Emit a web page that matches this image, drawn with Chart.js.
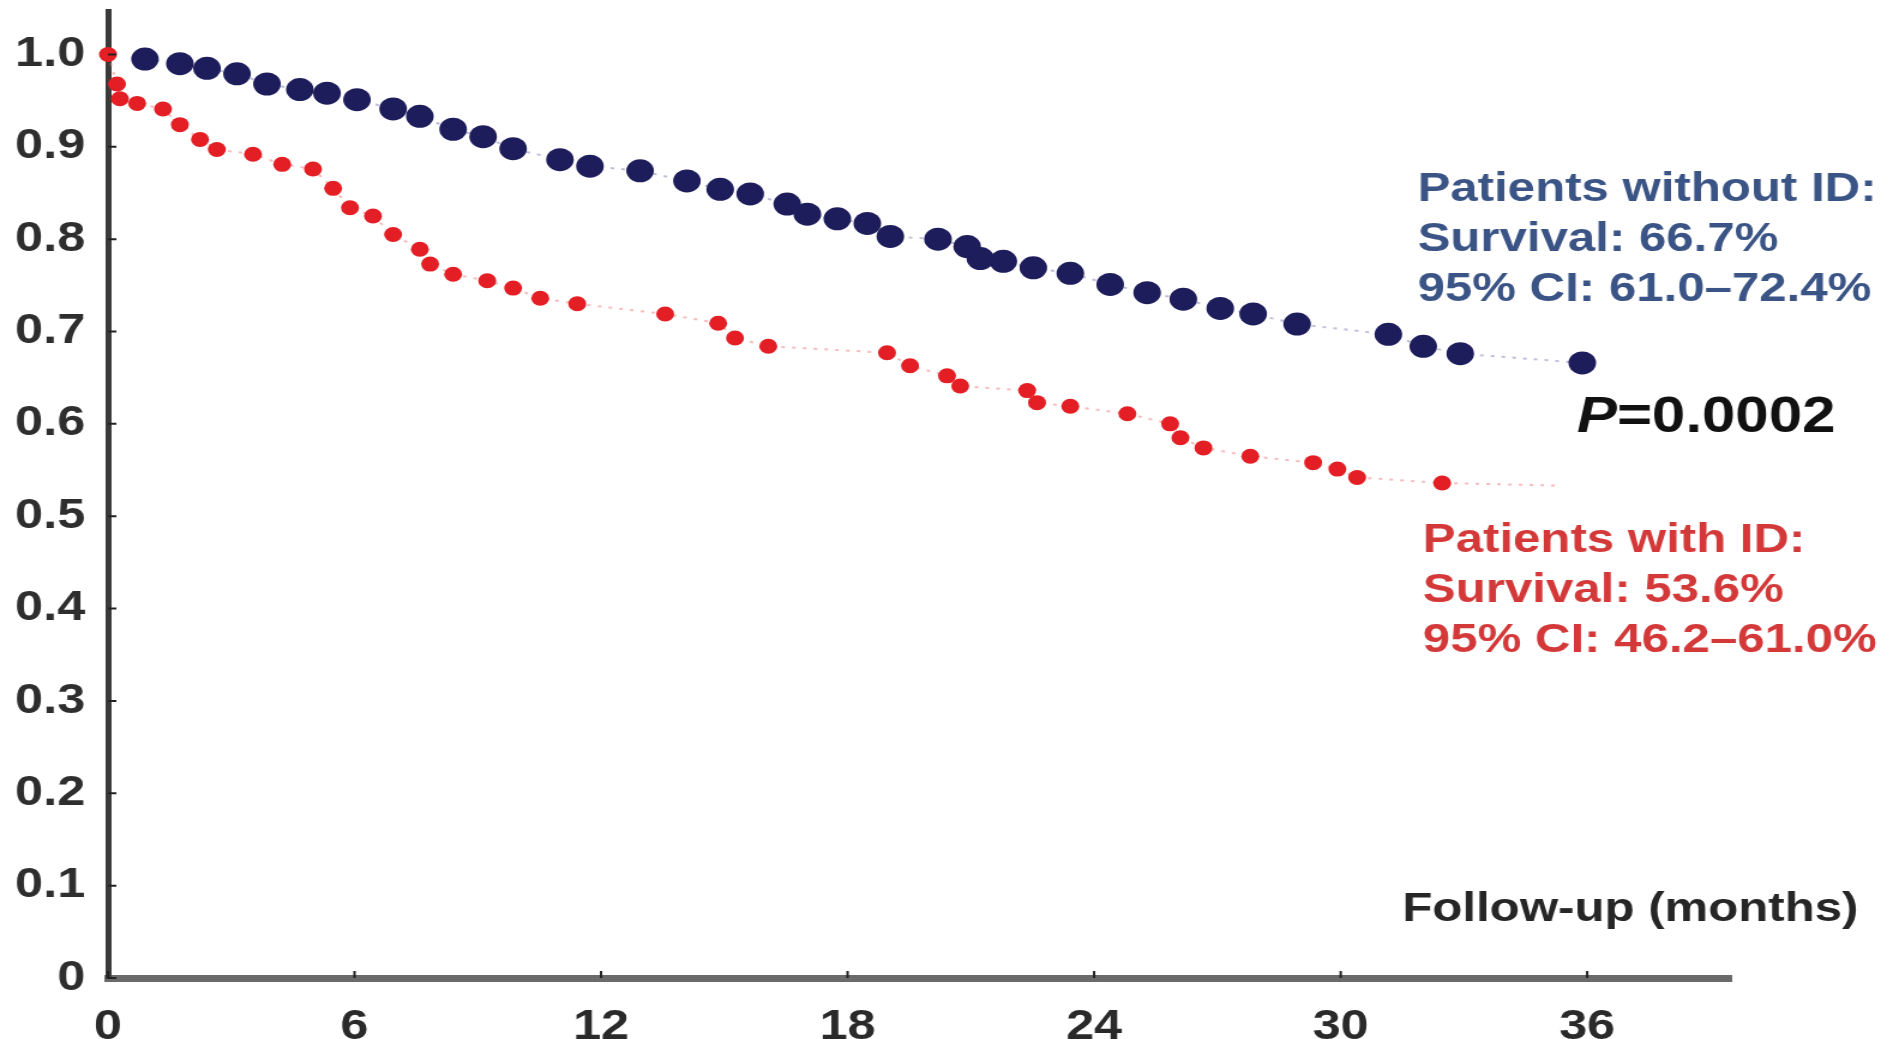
<!DOCTYPE html>
<html>
<head>
<meta charset="utf-8">
<title>Survival by ID status</title>
<script src="https://cdn.jsdelivr.net/npm/chart.js@4/dist/chart.umd.min.js"></script>
<style>
  html, body { margin: 0; padding: 0; background: #fff; overflow: hidden; }
  /* the source figure is stretched sideways, so the canvas is too */
  #wrap { width: 1583px; height: 1039px; transform: scaleX(1.1996); transform-origin: 0 0; }
</style>
</head>
<body>
<div id="wrap"><canvas id="km" width="1583" height="1039"></canvas></div>
<script>
// Follow-up in months / survival proportion
const monthTicks = [0, 6, 12, 18, 24, 30, 36];

const noIdMonths = [0.9, 1.75, 2.41, 3.14, 3.87, 4.67, 5.33, 6.06, 6.94, 7.59, 8.40, 9.13, 9.86,
  11.0, 11.73, 12.95, 14.09, 14.90, 15.63, 16.53, 17.02, 17.75, 18.48, 19.04, 20.20, 20.91,
  21.23, 21.79, 22.52, 23.42, 24.39, 25.29, 26.17, 27.07, 27.87, 28.94, 31.16, 32.01, 32.91, 35.88];
const noIdSurvival = [0.995, 0.990, 0.985, 0.979, 0.968, 0.962, 0.958, 0.951, 0.941, 0.933, 0.919,
  0.911, 0.898, 0.886, 0.879, 0.874, 0.863, 0.854, 0.849, 0.838, 0.827, 0.822, 0.817, 0.803,
  0.800, 0.792, 0.779, 0.776, 0.769, 0.763, 0.751, 0.742, 0.735, 0.725, 0.719, 0.708, 0.697,
  0.684, 0.676, 0.666];

const idMonths = [0, 0.22, 0.29, 0.71, 1.34, 1.75, 2.24, 2.65, 3.53, 4.24, 4.99, 5.48, 5.89, 6.45,
  6.94, 7.59, 7.84, 8.40, 9.23, 9.86, 10.52, 11.42, 13.56, 14.85, 15.26, 16.07, 18.96, 19.52,
  20.42, 20.74, 22.37, 22.61, 23.42, 24.81, 25.85, 26.10, 26.66, 27.80, 29.33, 29.92, 30.40,
  32.47, 35.35];
const idSurvival = [1.0, 0.968, 0.952, 0.947, 0.941, 0.924, 0.908, 0.897, 0.892, 0.881, 0.876,
  0.855, 0.834, 0.825, 0.805, 0.789, 0.773, 0.762, 0.755, 0.747, 0.736, 0.730, 0.719, 0.709,
  0.693, 0.684, 0.677, 0.663, 0.652, 0.641, 0.636, 0.623, 0.619, 0.611, 0.600, 0.585, 0.574,
  0.565, 0.558, 0.551, 0.542, 0.536, 0.533];

const noIdText = ["Patients without ID:", "Survival: 66.7%", "95% CI: 61.0\u201372.4%"];
const idText = ["Patients with ID:", "Survival: 53.6%", "95% CI: 46.2\u201361.0%"];
const pText = ["P", "=0.0002"];
const xTitle = "Follow-up (months)";

const FONT = 'Arial, "Liberation Sans", sans-serif';
const NAVY = "#1d1d5c";
const RED = "#e31f25";

function toPoints(xs, ys) {
  return xs.map((m, i) => ({ x: m, y: ys[i] }));
}

// small tick marks pointing into the plot, like the original
const innerTicks = {
  id: "innerTicks",
  afterDraw(chart) {
    const { ctx, chartArea: a, scales: { x, y } } = chart;
    ctx.save();
    ctx.strokeStyle = "#222";
    ctx.lineWidth = 2;
    ctx.beginPath();
    y.ticks.forEach(t => {
      const py = y.getPixelForValue(t.value);
      ctx.moveTo(a.left, py);
      ctx.lineTo(a.left + 7, py);
    });
    x.ticks.forEach(t => {
      const px = x.getPixelForValue(t.value);
      ctx.moveTo(px, a.bottom);
      ctx.lineTo(px, a.bottom - 7);
    });
    ctx.stroke();
    ctx.restore();
  }
};

// text blocks on the right side of the plot
const notesPlugin = {
  id: "notes",
  afterDatasetsDraw(chart) {
    const { ctx, scales: { x } } = chart;
    ctx.save();
    ctx.textAlign = "left";
    ctx.textBaseline = "middle";

    ctx.font = "bold 41px " + FONT;
    ctx.fillStyle = "#3b5486";
    noIdText.forEach((t, i) => ctx.fillText(t, x.getPixelForValue(31.87), 190 + i * 50));

    ctx.fillStyle = "#d4393a";
    idText.forEach((t, i) => ctx.fillText(t, x.getPixelForValue(32.0), 541 + i * 50));

    ctx.fillStyle = "#262626";
    ctx.fillText(xTitle, x.getPixelForValue(31.5), 910);

    // P value, italic P
    const px = x.getPixelForValue(35.75);
    ctx.fillStyle = "#111";
    ctx.font = "italic bold 50px " + FONT;
    ctx.fillText(pText[0], px, 418);
    const w = ctx.measureText(pText[0]).width;
    ctx.font = "bold 50px " + FONT;
    ctx.fillText(pText[1], px + w, 418);
    ctx.restore();
  }
};

const noIdData = toPoints(noIdMonths, noIdSurvival);
const idData = toPoints(idMonths, idSurvival);

new Chart(document.getElementById("km"), {
  type: "scatter",
  data: {
    datasets: [
      {
        label: "Patients without ID",
        data: noIdData,
        showLine: true,
        borderColor: "rgba(110,110,170,0.45)",
        borderWidth: 2,
        borderDash: [3, 6],
        backgroundColor: NAVY,
        pointBorderWidth: 0,
        pointRadius: 11.5,
        clip: false
      },
      {
        label: "Patients with ID",
        data: idData,
        showLine: true,
        borderColor: "rgba(240,120,120,0.5)",
        borderWidth: 2,
        borderDash: [3, 6],
        backgroundColor: RED,
        pointBorderWidth: 0,
        pointRadius: ctx => (ctx.dataIndex === idData.length - 1 ? 0 : 7.5),
        clip: false
      }
    ]
  },
  options: {
    responsive: false,
    animation: false,
    devicePixelRatio: 1,
    layout: { padding: { top: 10, right: 140, left: 0, bottom: 0 } },
    plugins: {
      legend: { display: false },
      tooltip: { enabled: false }
    },
    scales: {
      x: {
        type: "linear",
        min: 0,
        max: 39.5,
        afterFit: s => {
          s.height = 61;
          s.paddingLeft = 0;
          s.paddingRight = 0;
        },
        grid: { display: false },
        border: { display: true, color: "#6a6a6a", width: 7 },
        afterBuildTicks: s => { s.ticks = monthTicks.map(v => ({ value: v })); },
        ticks: {
          padding: 16,
          color: "#2a2a2a",
          font: { family: FONT, size: 42, weight: "bold" },
          maxRotation: 0
        }
      },
      y: {
        min: 0,
        max: 1.0465,
        afterFit: s => {
          s.width = 90;
          s.paddingTop = 0;
          s.paddingBottom = 0;
        },
        grid: { display: false },
        border: { display: true, color: "#3a3a3a", width: 5 },
        ticks: {
          stepSize: 0.1,
          includeBounds: false,
          padding: 11,
          color: "#2e2e2e",
          font: { family: FONT, size: 42, weight: "bold" },
          callback: v => (v === 0 ? "0" : v.toFixed(1))
        }
      }
    }
  },
  plugins: [innerTicks, notesPlugin]
});
</script>
</body>
</html>
